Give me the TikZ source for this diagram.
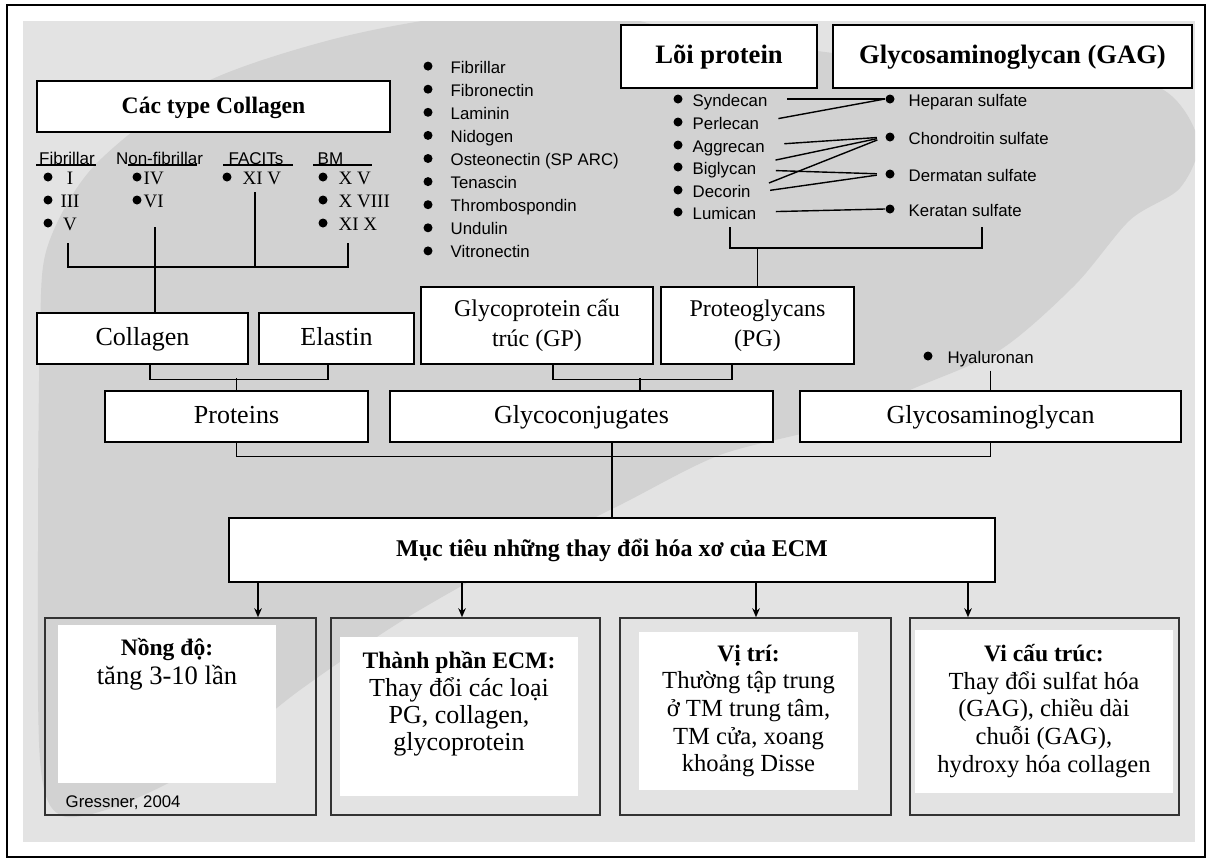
\documentclass[tikz,border=0pt]{standalone}
\usepackage{fontspec}
\setmainfont{Liberation Serif}
\newfontfamily\tahoma{Liberation Sans}
\usetikzlibrary{arrows.meta}

\definecolor{pagegray}{HTML}{E3E3E3}
\definecolor{blobgray}{HTML}{D2D2D2}

\begin{document}
\begin{tikzpicture}[x=0.5pt, y=-0.5pt, line width=0.7pt,
    >={Stealth[length=4.5pt, width=3.8pt]},
    box/.style={draw, fill=white, inner sep=0pt, align=center, font=\fontsize{13}{15}\selectfont},
    one/.style={text height=0.8em, text depth=0.14em},
    headbox/.style={box, one, line width=1pt, font=\bfseries\fontsize{13.3}{15}\selectfont},
    outerbox/.style={draw=black!80, line width=0.8pt, inner sep=0pt},
    card/.style={fill=white, inner sep=0pt},
    cardtext/.style={align=center, inner sep=0pt},
    dot/.style={circle, fill, inner sep=0pt, minimum size=4.5pt},
    item/.style={anchor=west, inner sep=0pt, text height=0.75em, text depth=0.05em,
        font=\tahoma\fontsize{8.4}{10}\selectfont},
    sub/.style={inner sep=0pt, text height=0.75em, text depth=0.05em, font=\tahoma\fontsize{8.5}{10}\selectfont},
    roman/.style={anchor=west, inner sep=0pt, text height=0.7em, text depth=0em, font=\fontsize{9.5}{11}\selectfont},
    link/.style={shorten <=9.5pt}]
    % page, background and the liver shape
    \useasboundingbox (0,0) rectangle (1211,863);
    \draw[line width=1pt] (7,5) rectangle (1205,857);
    \fill[pagegray] (23,21) rectangle (1195,842);
    \begin{scope}
        \clip (23,21) rectangle (1195,842);
        \fill[blobgray] plot[smooth cycle] coordinates {(40,330) (48,245) (95,165) (200,85)
            (330,40) (460,16) (600,14) (680,30) (850,55) (1050,70) (1160,88) (1198,140)
            (1180,188) (1130,220) (1075,285) (1000,350) (910,390) (830,426) (720,455)
            (620,505) (500,565) (400,622) (300,690) (210,760) (120,805) (60,815) (40,760) (38,550)};
    \end{scope}
    % top boxes
    \node[headbox, font=\bfseries\fontsize{11.8}{14}\selectfont, minimum width=176.5pt, minimum height=25.5pt] (coltypes) at (213.5,106.5) {Các type Collagen};
    \node[headbox, minimum width=98pt, minimum height=31.5pt] (core) at (719,56.5) {Lõi protein};
    \node[headbox, minimum width=179.5pt, minimum height=31.5pt] (gag) at (1012.5,56.5) {Glycosaminoglycan (GAG)};
    % collagen types
    \node[sub] (fib) at (67,157) {Fibrillar};
    \node[sub] (nonfib) at (159.5,157) {Non-fibrillar};
    \node[sub] (facit) at (256,157) {FACITs};
    \node[sub, anchor=west] (bm) at (317,157) {BM};
    \foreach \a/\b in {36/96, 128/197, 223/293, 313/372}
        \draw[line width=0.6pt] (\a,165) -- (\b,165);
    \foreach \t [count=\i] in {I, III, V} {
        \node[dot] (fdot\i) at (48,154+23*\i) {};
        \node[roman, anchor=center] (fnum\i) at (70,154+23*\i) {\t};
    }
    \foreach \t [count=\i] in {IV, VI} {
        \node[dot] (ndot\i) at (137,154+23*\i) {};
        \node[roman] (nnum\i) at (143,154+23*\i) {\t};
    }
    \node[dot] (adot1) at (227,177) {};
    \node[roman] (anum1) at (242,177) {XI V};
    \foreach \t [count=\i] in {X V, X VIII, XI X} {
        \node[dot] (bdot\i) at (323,154+23*\i) {};
        \node[roman] (bnum\i) at (338,154+23*\i) {\t};
    }
    \coordinate (fibend) at (68,243);
    \coordinate (bmend) at (348,243);
    \coordinate (facend) at (255,192);
    \coordinate (nfend) at (155,227);
    \draw (fibend) -- ++(0,24) -| (bmend);
    \draw (facend) -- (facend |- 0,267);
    % glycoproteins
    \foreach \t [count=\i] in {Fibrillar, Fibronectin, Laminin, Nidogen, Osteonectin (SP ARC),
            Tenascin, Thrombospondin, Undulin, Vitronectin} {
        \node[dot] (ldot\i) at (428,43+23.1*\i) {};
        \node[item] (lst\i) at (450,43+23.1*\i) {\t};
    }
    % core proteins and their GAG
    \foreach \n/\t/\y in {syn/Syndecan/99, per/Perlecan/122, agg/Aggrecan/145,
            big/Biglycan/167, dec/Decorin/190, lum/Lumican/212} {
        \node[dot] (dot\n) at (678,\y) {};
        \node[item] (\n) at (692,\y) {\t};
    }
    \foreach \n/\t/\y in {hs/Heparan sulfate/99, cs/Chondroitin sulfate/137,
            ds/Dermatan sulfate/174, ks/Keratan sulfate/209} {
        \node[dot] (dot\n) at (890,\y) {};
        \node[item] (\n) at (908,\y) {\t};
    }
    \draw[link] (syn.east) -- (doths.west);
    \draw[link] (per.east) -- (doths.west);
    \draw[link, shorten >=4pt] (agg.east) -- (dotcs.west);
    \draw[link, shorten >=4pt] ([yshift=1.5pt]big.east) -- (dotcs.west);
    \draw[link, shorten >=4pt] ([yshift=-1.5pt]big.east) -- (dotds.west);
    \draw[link, shorten >=4pt] (dec.east) -- (dotcs.west);
    \draw[link, shorten >=4pt] ([yshift=-1.5pt]dec.east) -- (dotds.west);
    \draw[link] (lum.east) -- (dotks.west);
    \coordinate (lumend) at (730,227);
    \coordinate (ksend) at (982,227);
    \draw (lumend) -- ++(0,21) -| (ksend);
    % middle boxes
    \node[box, one, minimum width=105.5pt, minimum height=25.5pt] (collagen) at (142.5,338.5) {Collagen};
    \node[box, one, minimum width=77.5pt, minimum height=25.5pt] (elastin) at (336.5,338.5) {Elastin};
    \node[box, font=\fontsize{12}{15}\selectfont, minimum width=116pt, minimum height=38.5pt] (gp) at (537,325.5) {Glycoprotein cấu\\trúc (GP)};
    \node[box, font=\fontsize{12}{15}\selectfont, minimum width=96.5pt, minimum height=38.5pt] (pg) at (757.5,325.5) {Proteoglycans\\(PG)};
    \node[dot] (dothy) at (928,356) {};
    \node[item] (hyal) at (947,356) {Hyaluronan};
    \node[box, one, minimum width=131.5pt, minimum height=25.5pt] (proteins) at (236.5,416.5) {Proteins};
    \node[box, one, minimum width=191.5pt, minimum height=25.5pt] (glycoconj) at (581.5,416.5) {Glycoconjugates};
    \node[box, one, minimum width=190.5pt, minimum height=25.5pt] (gagbox) at (990.5,416.5) {Glycosaminoglycan};
    \draw (nfend) -- (nfend |- collagen.north);
    \draw (pg.north) -- (pg.north |- 0,248);
    \draw ([yshift=-3pt]gagbox.north |- hyal.south) -- (gagbox.north);
    \draw ([xshift=3.75pt]collagen.south) -- ++(0,15) -| ([xshift=-4.25pt]elastin.south);
    \draw (proteins.north) -- ++(0,-12);
    \draw ([xshift=8pt]gp.south) -- ++(0,15) -| ([xshift=-12.75pt]pg.south);
    \draw (glycoconj.north -| 640,0) -- ++(0,-12);
    % target of fibrosis
    \node[box, one, line width=1pt, font=\bfseries\fontsize{12}{14}\selectfont, minimum width=383pt, minimum height=32pt] (target) at (612,550) {Mục tiêu những thay đổi hóa xơ của ECM};
    \draw (proteins.south) -- ++(0,14) -| (gagbox.south);
    \draw (glycoconj.south -| target.north) -- (target.north);
    % bottom boxes
    \node[outerbox, minimum width=135.5pt, minimum height=98.5pt] (b1) at (180.5,716.5) {};
    \node[outerbox, minimum width=134.5pt, minimum height=98.5pt] (b2) at (465.5,716.5) {};
    \node[outerbox, minimum width=135.5pt, minimum height=98.5pt] (b3) at (755.5,716.5) {};
    \node[outerbox, minimum width=134.5pt, minimum height=98.5pt] (b4) at (1044.5,716.5) {};
    \node[card, minimum width=109pt, minimum height=79pt] (w1) at (167,704) {};
    \node[card, minimum width=119pt, minimum height=79.5pt] (w2) at (459,716.5) {};
    \node[card, minimum width=109.5pt, minimum height=79pt] (w3) at (748.5,711) {};
    \node[card, minimum width=129pt, minimum height=81.5pt] (w4) at (1044,711.5) {};
    \node[cardtext, font=\fontsize{13.3}{14.5}\selectfont] (t1) at (167,664.5)
        {{\bfseries\fontsize{11.8}{14.5}\selectfont Nồng độ:}\\tăng 3-10 lần};
    \node[cardtext, font=\fontsize{13}{13.7}\selectfont] (t2) at (459,704)
        {{\bfseries\fontsize{11.8}{13.7}\selectfont Thành phần ECM:}\\Thay đổi các loại\\PG, collagen,\\glycoprotein};
    \node[cardtext, font=\fontsize{12.3}{13.8}\selectfont] (t3) at (748.5,711)
        {{\bfseries\fontsize{11.8}{13.8}\selectfont Vị trí:}\\Thường tập trung\\ở TM trung tâm,\\TM cửa, xoang\\khoảng Disse};
    \node[cardtext, font=\fontsize{12.3}{13.8}\selectfont] (t4) at (1044,711)
        {{\bfseries\fontsize{11.8}{13.8}\selectfont Vi cấu trúc:}\\Thay đổi sulfat hóa\\(GAG), chiều dài\\chuỗi (GAG),\\hydroxy hóa collagen};
    \node[item] (src) at (65,800) {Gressner, 2004};
    \foreach \b/\x in {b1/258, b2/462, b3/756, b4/968}
        \draw[->] (target.south -| \x,0) -- (\b.north -| \x,0);
\end{tikzpicture}
\end{document}
